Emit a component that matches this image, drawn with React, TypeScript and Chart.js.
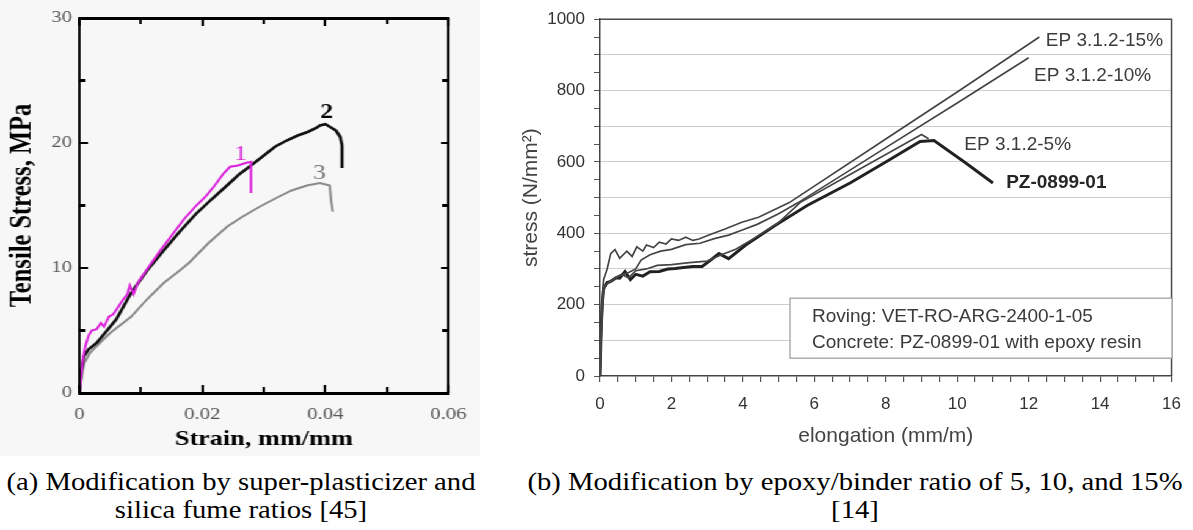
import React, { useEffect, useRef, useState } from "react";
import { Chart, registerables } from "chart.js";

Chart.register(...registerables);

// ---------------- Panel (a) data ----------------
const strainMajorTicks = [0, 0.02, 0.04, 0.06];
const strainMinorTicks = [0.01, 0.03, 0.05];
const stressMajorTicksA = [0, 10, 20, 30];
const stressMinorTicksA = [5, 15, 25];

const curve1Strain = [0, 0.0003, 0.0006, 0.001, 0.0015, 0.002, 0.0028, 0.0035, 0.004, 0.0048, 0.0055, 0.0062, 0.007, 0.0078, 0.0082, 0.0088, 0.0095, 0.011, 0.013, 0.015, 0.017, 0.019, 0.0205, 0.022, 0.0235, 0.0245, 0.0258, 0.027, 0.0279, 0.0279];
const curve1Stress = [0, 1.5, 2.8, 3.8, 4.6, 5.0, 5.1, 5.6, 5.3, 6.1, 6.3, 6.8, 7.4, 7.9, 8.6, 7.9, 8.8, 9.9, 11.3, 12.6, 13.9, 15.0, 15.7, 16.6, 17.6, 18.1, 18.2, 18.4, 18.5, 16.0];

const curve2Strain = [0, 0.0003, 0.0007, 0.0015, 0.0028, 0.0045, 0.006, 0.0084, 0.011, 0.0137, 0.0163, 0.0189, 0.0215, 0.024, 0.026, 0.0279, 0.03, 0.0318, 0.0337, 0.0355, 0.0372, 0.0385, 0.0391, 0.04, 0.0407, 0.0417, 0.0424, 0.0427, 0.0427];
const curve2Stress = [0, 1.8, 2.9, 3.5, 4.0, 5.0, 5.9, 8.0, 9.8, 11.4, 12.9, 14.3, 15.5, 16.6, 17.5, 18.2, 19.0, 19.7, 20.2, 20.6, 20.9, 21.2, 21.4, 21.5, 21.3, 21.0, 20.5, 19.8, 18.0];

const curve3Strain = [0, 0.0003, 0.0008, 0.0017, 0.0033, 0.005, 0.0084, 0.011, 0.0137, 0.0158, 0.0178, 0.021, 0.024, 0.0265, 0.0293, 0.032, 0.0345, 0.037, 0.0391, 0.0407, 0.0409, 0.0412];
const curve3Stress = [0, 1.2, 2.4, 3.2, 4.0, 4.8, 6.1, 7.5, 8.8, 9.6, 10.4, 12.0, 13.3, 14.1, 14.9, 15.6, 16.2, 16.6, 16.8, 16.6, 15.5, 14.5];

const curveNames = ["1", "2", "3"];
const curveLabelStrain = [0.0262, 0.0402, 0.039];
const curveLabelStress = [19.1, 22.4, 17.6];

// ---------------- Panel (b) data ----------------
const elongationTicks = [0, 0.5, 1, 1.5, 2, 2.5, 3, 3.5, 4, 4.5, 5, 5.5, 6, 6.5, 7, 7.5, 8, 8.5, 9, 9.5, 10, 10.5, 11, 11.5, 12, 12.5, 13, 13.5, 14, 14.5, 15, 15.5, 16];
const elongationLabels = [0, 2, 4, 6, 8, 10, 12, 14, 16];
const stressTicksB = [0, 50, 100, 150, 200, 250, 300, 350, 400, 450, 500, 550, 600, 650, 700, 750, 800, 850, 900, 950, 1000];
const stressLabelsB = [0, 200, 400, 600, 800, 1000];
const stressGridB = [100, 200, 300, 400, 500, 600, 700, 800, 900];

const ep15Elong = [0, 0.05, 0.1, 0.2, 0.3, 0.42, 0.55, 0.75, 0.9, 1.03, 1.2, 1.3, 1.5, 1.66, 1.85, 2.0, 2.2, 2.4, 2.6, 2.77, 3.05, 3.5, 3.97, 4.44, 5.3, 8.0, 10.0, 12.3];
const ep15Stress = [0, 200, 270, 300, 343, 354, 330, 350, 335, 362, 350, 367, 360, 375, 370, 384, 380, 389, 380, 384, 395, 412, 431, 445, 486, 664, 796, 950];

const ep10Elong = [0, 0.05, 0.1, 0.3, 0.5, 0.8, 1.0, 1.15, 1.4, 1.7, 2.0, 2.4, 2.8, 3.2, 3.6, 4.0, 4.4, 5.0, 5.55, 8.0, 10.0, 12.0];
const ep10Stress = [0, 160, 250, 268, 280, 290, 300, 325, 340, 350, 355, 368, 372, 385, 395, 410, 425, 455, 486, 640, 765, 892];

const ep5Elong = [0, 0.05, 0.1, 0.2, 0.4, 0.6, 0.8, 1.0, 1.3, 1.6, 2.0, 2.5, 3.0, 3.4, 3.8, 4.3, 5.0, 5.6, 7.0, 8.0, 9.0, 9.2];
const ep5Stress = [0, 150, 240, 258, 270, 285, 275, 295, 300, 310, 312, 318, 322, 340, 355, 385, 430, 486, 565, 621, 677, 665];

const pzElong = [0, 0.03, 0.06, 0.1, 0.2, 0.3, 0.45, 0.55, 0.7, 0.85, 1.0, 1.2, 1.4, 1.66, 1.9, 2.1, 2.4, 2.6, 2.86, 3.1, 3.33, 3.6, 4.08, 4.9, 5.8, 7.0, 8.0, 8.96, 9.35, 10.2, 11.0];
const pzStress = [0, 120, 200, 245, 262, 265, 275, 274, 293, 270, 285, 280, 292, 293, 300, 301, 305, 307, 307, 325, 343, 329, 367, 422, 478, 541, 600, 657, 660, 600, 541];

const seriesNamesB = ["EP 3.1.2-15%", "EP 3.1.2-10%", "EP 3.1.2-5%", "PZ-0899-01"];
const seriesLabelElong = [12.48, 12.15, 10.2, 11.37];
const seriesLabelStress = [925, 826, 633, 528];
const noteLines = ["Roving: VET-RO-ARG-2400-1-05", "Concrete: PZ-0899-01 with epoxy resin"];

// ---------------- helpers ----------------
const SERIF = "'Liberation Serif', 'Times New Roman', Times, serif";
const SANS = "'Liberation Sans', Arial, Helvetica, sans-serif";
const STRETCH_A = 1.2214; // horizontal stretch of panel (a) (480 / 393)
const A_W = 393;
const A_H = 456;

const pts = (xs: number[], ys: number[]) => xs.map((x, i) => ({ x, y: ys[i] }));

type FrameGeom = {
  L: number;
  R: number;
  T: number;
  B: number;
  xt: { p: number; len: number }[];
  yt: { p: number; len: number }[];
};

function computeGeom(chart: any): FrameGeom {
  const xs = chart.scales.x;
  const ys = chart.scales.y;
  return {
    L: xs.getPixelForValue(0),
    R: xs.getPixelForValue(0.06),
    T: ys.getPixelForValue(30),
    B: ys.getPixelForValue(0),
    xt: strainMajorTicks
      .map((v) => ({ p: xs.getPixelForValue(v), len: 8 }))
      .concat(strainMinorTicks.map((v) => ({ p: xs.getPixelForValue(v), len: 6 }))),
    yt: stressMajorTicksA
      .map((v) => ({ p: ys.getPixelForValue(v), len: 6.5 }))
      .concat(stressMinorTicksA.map((v) => ({ p: ys.getPixelForValue(v), len: 5 }))),
  };
}

const labelPluginA = {
  id: "labelsA",
  afterDraw(chart: any) {
    const ctx = chart.ctx;
    const xs = chart.scales.x;
    const ys = chart.scales.y;
    const colors = ["#d81fd8", "black", "#7a7a7a"];
    const weights = ["normal", "bold", "normal"];
    ctx.save();
    ctx.textAlign = "center";
    ctx.textBaseline = "middle";
    curveNames.forEach((n, i) => {
      ctx.fillStyle = colors[i];
      ctx.font = `${weights[i]} 21px ${SERIF}`;
      ctx.fillText(n, xs.getPixelForValue(curveLabelStrain[i]), ys.getPixelForValue(curveLabelStress[i]));
    });
    ctx.restore();
  },
};

const labelPluginB = {
  id: "labelsB",
  afterDraw(chart: any) {
    const ctx = chart.ctx;
    const xs = chart.scales.x;
    const ys = chart.scales.y;
    const L = xs.getPixelForValue(0);
    const R = xs.getPixelForValue(16);
    const B = ys.getPixelForValue(0);
    const T = ys.getPixelForValue(1000);
    ctx.save();
    ctx.strokeStyle = "#4a4a4a";
    ctx.lineWidth = 1.5;
    ctx.beginPath();
    ctx.moveTo(L, T);
    ctx.lineTo(R, T);
    ctx.lineTo(R, B);
    ctx.stroke();
    ctx.textAlign = "left";
    ctx.textBaseline = "alphabetic";
    seriesNamesB.forEach((n, i) => {
      ctx.fillStyle = i === 3 ? "#262626" : "#3c3c3c";
      ctx.font = `${i === 3 ? "bold " : ""}19px ${SANS}`;
      ctx.fillText(n, xs.getPixelForValue(seriesLabelElong[i]), ys.getPixelForValue(seriesLabelStress[i]));
    });
    const bx = L + 190;
    const by = T + 279;
    ctx.fillStyle = "#ffffff";
    ctx.fillRect(bx, by, 382, 60);
    ctx.strokeStyle = "#9a9a9a";
    ctx.lineWidth = 1.2;
    ctx.strokeRect(bx, by, 382, 60);
    ctx.fillStyle = "#3a3a3a";
    ctx.font = `19px ${SANS}`;
    noteLines.forEach((t, i) => {
      ctx.fillText(t, bx + 22, by + 24 + i * 26);
    });
    ctx.restore();
  },
};

function ChartA() {
  const ref = useRef<HTMLCanvasElement | null>(null);
  const [geom, setGeom] = useState<FrameGeom | null>(null);
  useEffect(() => {
    if (!ref.current) return;
    const geomPlugin = {
      id: "geomA",
      afterRender(chart: any) {
        const g = computeGeom(chart);
        setGeom((prev) =>
          prev && prev.L === g.L && prev.R === g.R && prev.T === g.T && prev.B === g.B ? prev : g
        );
      },
    };
    const chart = new Chart(ref.current, {
      type: "line",
      data: {
        datasets: [
          { label: "1", data: pts(curve1Strain, curve1Stress), borderColor: "#dc22dc", borderWidth: 2, pointRadius: 0, tension: 0, fill: false },
          { label: "2", data: pts(curve2Strain, curve2Stress), borderColor: "#111111", borderWidth: 2.6, pointRadius: 0, tension: 0, fill: false },
          { label: "3", data: pts(curve3Strain, curve3Stress), borderColor: "#8a8a8a", borderWidth: 2, pointRadius: 0, tension: 0, fill: false },
        ],
      },
      options: {
        animation: false,
        responsive: false,
        maintainAspectRatio: false,
        devicePixelRatio: 1,
        layout: { autoPadding: false, padding: { top: 18, right: 14, bottom: 0, left: 0 } },
        plugins: { legend: { display: false }, tooltip: { enabled: false } },
        scales: {
          x: {
            type: "linear",
            min: 0,
            max: 0.06,
            afterBuildTicks: (s: any) => {
              s.ticks = strainMajorTicks.map((v) => ({ value: v }));
            },
            afterFit: (s: any) => {
              s.height = 63;
            },
            grid: { display: false, drawTicks: false },
            border: { display: false },
            ticks: {
              autoSkip: false,
              maxRotation: 0,
              padding: 11,
              color: "#555555",
              font: { family: SERIF, size: 17 },
              callback: (v: any) => (Number(v) === 0 ? "0" : Number(v).toFixed(2)),
            },
            title: {
              display: true,
              text: "Strain, mm/mm",
              color: "#000",
              font: { family: SERIF, size: 21.5, weight: "bold" },
              padding: { top: 0, bottom: 4 },
            },
          },
          y: {
            type: "linear",
            min: 0,
            max: 30,
            afterBuildTicks: (s: any) => {
              s.ticks = stressMajorTicksA.map((v) => ({ value: v }));
            },
            afterFit: (s: any) => {
              s.width = 65;
            },
            grid: { display: false, drawTicks: false },
            border: { display: false },
            ticks: {
              padding: 6,
              color: "#555555",
              font: { family: SERIF, size: 17 },
              callback: (v: any) => String(v),
            },
            title: {
              display: true,
              text: "Tensile Stress, MPa",
              color: "#000",
              font: { family: SERIF, size: 24.5, weight: "bold" },
              padding: { top: 4, bottom: 0 },
            },
          },
        },
      } as any,
      plugins: [labelPluginA, geomPlugin],
    });
    return () => chart.destroy();
  }, []);

  const vw = 2.5; // vertical frame line width (logical units, stretched later)
  const hw = 3; // horizontal frame line width
  return (
    <div style={{ position: "relative", width: A_W, height: A_H }}>
      <canvas ref={ref} width={A_W} height={A_H} style={{ display: "block", width: A_W, height: A_H }} />
      {geom && (
        <>
          <div
            style={{
              position: "absolute",
              left: geom.L - vw / 2,
              top: geom.T - hw / 2,
              width: geom.R - geom.L + vw,
              height: geom.B - geom.T + hw,
              boxSizing: "border-box",
              borderStyle: "solid",
              borderColor: "#000",
              borderTopWidth: hw,
              borderBottomWidth: hw,
              borderLeftWidth: vw,
              borderRightWidth: vw,
              pointerEvents: "none",
            }}
          />
          {geom.xt.map((t, i) => (
            <React.Fragment key={`x${i}`}>
              <div style={{ position: "absolute", left: t.p - 1, top: geom.B - t.len, width: 2, height: t.len, background: "#000" }} />
              <div style={{ position: "absolute", left: t.p - 1, top: geom.T, width: 2, height: t.len, background: "#000" }} />
            </React.Fragment>
          ))}
          {geom.yt.map((t, i) => (
            <React.Fragment key={`y${i}`}>
              <div style={{ position: "absolute", left: geom.L, top: t.p - 1.2, width: t.len, height: 2.4, background: "#000" }} />
              <div style={{ position: "absolute", left: geom.R - t.len, top: t.p - 1.2, width: t.len, height: 2.4, background: "#000" }} />
            </React.Fragment>
          ))}
        </>
      )}
    </div>
  );
}

function ChartB() {
  const ref = useRef<HTMLCanvasElement | null>(null);
  useEffect(() => {
    if (!ref.current) return;
    const thin = { borderColor: "#454545", borderWidth: 1.7, pointRadius: 0, tension: 0, fill: false };
    const chart = new Chart(ref.current, {
      type: "line",
      data: {
        datasets: [
          { label: seriesNamesB[0], data: pts(ep15Elong, ep15Stress), ...thin },
          { label: seriesNamesB[1], data: pts(ep10Elong, ep10Stress), ...thin },
          { label: seriesNamesB[2], data: pts(ep5Elong, ep5Stress), ...thin },
          { label: seriesNamesB[3], data: pts(pzElong, pzStress), borderColor: "#222222", borderWidth: 3, pointRadius: 0, tension: 0, fill: false },
        ],
      },
      options: {
        animation: false,
        responsive: true,
        maintainAspectRatio: false,
        layout: { autoPadding: false, padding: { top: 14, right: 16, bottom: 0, left: 0 } },
        plugins: { legend: { display: false }, tooltip: { enabled: false } },
        scales: {
          x: {
            type: "linear",
            min: 0,
            max: 16,
            afterBuildTicks: (s: any) => {
              s.ticks = elongationTicks.map((v) => ({ value: v }));
            },
            afterFit: (s: any) => {
              s.height = 80;
            },
            grid: { drawOnChartArea: false, drawTicks: true, tickLength: 6, tickColor: "#555555", lineWidth: 1.2 },
            border: { display: true, color: "#444444", width: 1.5 },
            ticks: {
              autoSkip: false,
              maxRotation: 0,
              padding: 12,
              color: "#333333",
              font: { family: SANS, size: 17 },
              callback: (v: any) => (elongationLabels.includes(Number(v)) ? String(v) : ""),
            },
            title: {
              display: true,
              text: "elongation (mm/m)",
              color: "#444444",
              font: { family: SANS, size: 21 },
              padding: { top: 0, bottom: 7 },
            },
          },
          y: {
            type: "linear",
            min: 0,
            max: 1000,
            afterBuildTicks: (s: any) => {
              s.ticks = stressTicksB.map((v) => ({ value: v }));
            },
            afterFit: (s: any) => {
              s.width = 120;
            },
            grid: {
              color: (c: any) => (c.tick && stressGridB.includes(c.tick.value) ? "#cdcdcd" : "rgba(0,0,0,0)"),
              tickColor: "#555555",
              tickLength: 6,
              drawTicks: true,
              lineWidth: 1,
            },
            border: { display: true, color: "#444444", width: 1.5 },
            ticks: {
              autoSkip: false,
              padding: 9,
              color: "#333333",
              font: { family: SANS, size: 17 },
              callback: (v: any) => (stressLabelsB.includes(Number(v)) ? String(v) : ""),
            },
            title: {
              display: true,
              text: "stress (N/mm²)",
              color: "#444444",
              font: { family: SANS, size: 21 },
              padding: { top: 39, bottom: 0 },
            },
          },
        },
      } as any,
      plugins: [labelPluginB],
    });
    return () => chart.destroy();
  }, []);
  return <canvas ref={ref} />;
}

const captionStyle: React.CSSProperties = {
  position: "absolute",
  width: 700,
  textAlign: "center",
  fontFamily: SERIF,
  fontSize: 24.5,
  lineHeight: "28px",
  color: "#000",
  whiteSpace: "nowrap",
  transform: "scaleX(1.17)",
  transformOrigin: "center top",
};

export default function App() {
  return (
    <div style={{ position: "absolute", left: 0, top: 0, width: 1193, height: 530, background: "#ffffff", overflow: "hidden" }}>
      <div
        style={{
          position: "absolute",
          left: 0,
          top: 0,
          width: A_W,
          height: A_H,
          background: "#f7f7f7",
          transform: `scaleX(${STRETCH_A})`,
          transformOrigin: "0 0",
        }}
      >
        <ChartA />
      </div>
      <div style={{ position: "absolute", left: 480, top: 0, width: 713, height: 456 }}>
        <ChartB />
      </div>
      <div style={{ ...captionStyle, left: 241 - 350, top: 468 }}>
        <div>(a) Modification by super-plasticizer and</div>
        <div>silica fume ratios [45]</div>
      </div>
      <div style={{ ...captionStyle, left: 855 - 350, top: 468 }}>
        <div>(b) Modification by epoxy/binder ratio of 5, 10, and 15%</div>
        <div>[14]</div>
      </div>
    </div>
  );
}
